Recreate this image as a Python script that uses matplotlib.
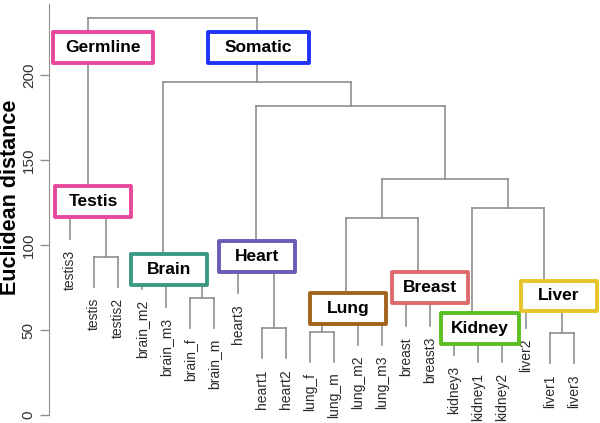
import numpy as np
import matplotlib.pyplot as plt
from matplotlib.patches import Rectangle

plt.rcParams['font.family'] = ['Liberation Sans', 'DejaVu Sans']

# leaves in plotting order
leaves = ['testis3', 'testis', 'testis2', 'brain_m2', 'brain_m3', 'brain_f', 'brain_m',
          'heart3', 'heart1', 'heart2', 'lung_f', 'lung_m', 'lung_m2', 'lung_m3',
          'breast', 'breast3', 'kidney3', 'kidney1', 'kidney2', 'liver2', 'liver1', 'liver3']

# merges: m0, m1, ... refer to earlier merges
merge_left = ['testis', 'testis3', 'brain_f', 'brain_m3', 'brain_m2', 'heart1', 'heart3',
              'lung_f', 'lung_m2', 'm7', 'breast', 'm9', 'kidney1', 'kidney3', 'liver1',
              'liver2', 'm13', 'm11', 'm6', 'm4', 'm1']
merge_right = ['testis2', 'm0', 'brain_m', 'm2', 'm3', 'heart2', 'm5',
               'lung_m', 'lung_m3', 'm8', 'breast3', 'm10', 'kidney2', 'm12', 'liver3',
               'm14', 'm15', 'm16', 'm17', 'm18', 'm19']
merge_height = [93, 121, 69, 81, 92, 51, 89.5,
                49, 59, 66, 70, 116, 49, 53, 48,
                69, 122, 139, 182, 196, 233.5]
hang = 17.6

# group boxes
group_names = ['Germline', 'Somatic', 'Testis', 'Brain', 'Heart', 'Lung', 'Breast', 'Kidney', 'Liver']
group_colors = ['#e8479e', '#1f33f5', '#e8479e', '#3d9a82', '#6a5db5', '#a3621e',
                '#dd6b6b', '#5cc020', '#e6c42a']
group_x = [1.375, 7.85, 0.96, 4.125, 7.79, 11.58, 15.0, 17.08, 20.375]
group_y = [216.2, 216.2, 125.6, 85.6, 93.5, 62.9, 75.0, 50.9, 70.0]
group_w = [4.17, 4.2, 3.17, 3.17, 3.17, 3.17, 3.17, 3.25, 3.17]

fig = plt.figure(figsize=(6, 4.23), dpi=100)
ax = fig.add_axes([0, 0, 1, 1])
ax.set_xlim(-2.917, 22.083)
ax.set_ylim(-4.7, 244.1)

line_col = '#8f8f8f'
xpos = {name: i for i, name in enumerate(leaves)}
ypos = {}

for i in range(len(merge_height)):
    l, r, h = merge_left[i], merge_right[i], merge_height[i]
    xl, xr = xpos[l], xpos[r]
    ax.plot([xl, xr], [h, h], color=line_col, lw=1.2)
    for c in (l, r):
        if c in ypos:
            bottom = ypos[c]
        else:
            bottom = h - hang
            ax.annotate(c, (xpos[c], bottom), xytext=(0, -8), textcoords='offset points',
                        rotation=90, ha='center', va='top', fontsize=10, color='#2a2a2a')
        ax.plot([xpos[c], xpos[c]], [h, bottom], color=line_col, lw=1.2)
    xpos['m%d' % i] = (xl + xr) / 2
    ypos['m%d' % i] = h

box_h = 18.2
for name, col, x, y, w in zip(group_names, group_colors, group_x, group_y, group_w):
    ax.add_patch(Rectangle((x - w / 2, y - box_h / 2), w, box_h, facecolor='white',
                           edgecolor=col, lw=2.8, joinstyle='round', zorder=3))
    ax.text(x, y, name, ha='center', va='center', fontsize=12.5, fontweight='bold',
            color='black', zorder=4)

for s in ['top', 'right', 'bottom']:
    ax.spines[s].set_visible(False)
ax.spines['left'].set_position(('data', -0.875))
ax.spines['left'].set_bounds(0, 242)
ax.spines['left'].set_color(line_col)
ax.set_xticks([])
ax.set_yticks([0, 50, 100, 150, 200])
ax.tick_params(axis='y', length=6.5, width=1, color=line_col, labelsize=11, pad=3,
               labelcolor='#333333')
for lab in ax.get_yticklabels():
    lab.set_rotation(90)
    lab.set_va('center')

fig.text(11 / 600, 1 - 197 / 423, 'Euclidean distance', rotation=90, ha='center',
         va='center', fontsize=15.5, fontweight='bold')

fig.savefig('out.png', dpi=100)
